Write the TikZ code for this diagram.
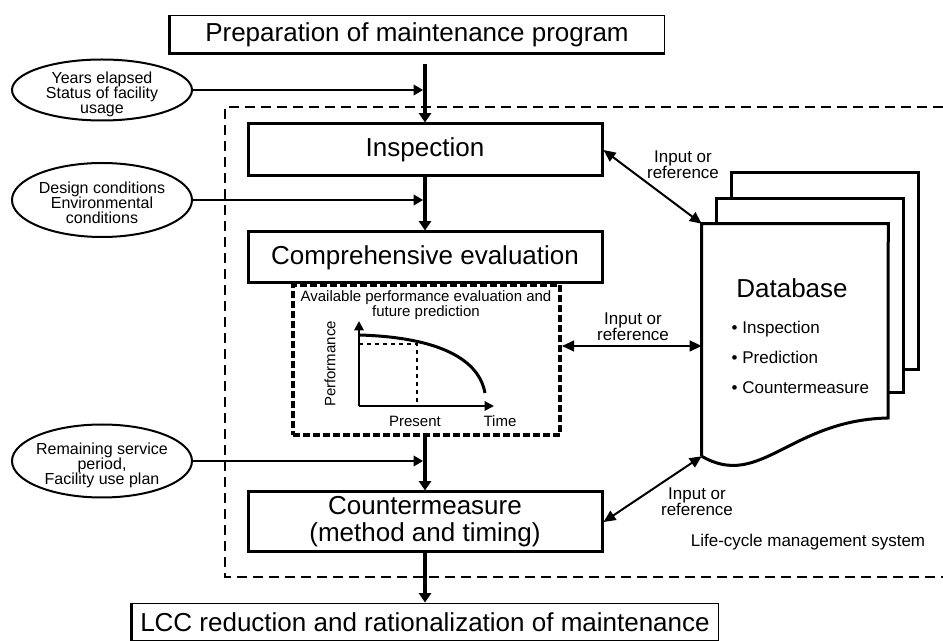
\documentclass[tikz,border=0pt]{standalone}
\usepackage{fontspec}
\setmainfont{Liberation Sans}
\usetikzlibrary{arrows.meta,shapes.geometric}

\newcommand\bigfont{\fontsize{19.5}{20.25}\selectfont}
\newcommand\midfont{\fontsize{12.75}{12}\selectfont}
\newcommand\smallfont{\fontsize{11.25}{11.25}\selectfont}
\newcommand\ellfont{\fontsize{12}{11.25}\selectfont}

\tikzset{
  stage/.style={draw, line width=2.25pt, minimum width=265.5pt, font=\bigfont},
  goal/.style={draw, line width=0.75pt, inner sep=2pt, font=\bigfont},
  factor/.style={ellipse, draw, line width=1.5pt, minimum width=135pt, inner sep=0pt},
  factortext/.style={align=center, font=\ellfont},
  flow/.style={line width=3pt, -{Triangle[width=9pt,length=7pt]}},
  side/.style={line width=1.1pt, shorten >=1.5pt, -{Triangle[width=8pt,length=7pt]}},
  io/.style={line width=1.5pt, {Triangle[width=8pt,length=9pt]}-{Triangle[width=8pt,length=9pt]}},
  iolabel/.style={align=center, font=\midfont},
  axis/.style={line width=1.5pt, -{Triangle[width=7pt,length=7pt]}},
}

\begin{document}
\begin{tikzpicture}[x=0.75pt,y=-0.75pt]
\useasboundingbox (0,0) rectangle (943,641);

\node[goal, minimum width=371.25pt, minimum height=27.75pt] (prep) at (417,34.5) {Preparation of maintenance program};
\draw[line width=2.25pt] (prep.north west) -- (prep.south west) -- (prep.south east);

\draw[line width=2pt, dash pattern=on 7.5pt off 4.5pt] (943,107) -- (225,107) -- (225,577) -- (943,577);

\node[stage, minimum height=39pt] (insp) at (425,150) {Inspection};
\node[stage, minimum height=38.25pt] (comp) at (425,257.5) {Comprehensive evaluation};
\node[draw, line width=3pt, dash pattern=on 5pt off 2.5pt, minimum width=200.25pt, minimum height=112.5pt] (perf) at (426.5,360) {};
\node[stage, minimum height=45pt, align=center] (cm) at (425,522) {Countermeasure\\(method and timing)};
\node[goal, minimum width=439.5pt, minimum height=28.5pt] (lcc) at (425,622) {LCC reduction and rationalization of maintenance};
\draw[line width=2.25pt] (lcc.north west) -- (lcc.south west) -- (lcc.south east);

\node[factor, minimum height=45.75pt, label={[factortext, yshift=-3pt]center:{Years elapsed\\Status of facility\\usage}}] (e1) at (102,90) {};
\node[factor, minimum height=55.5pt, label={[factortext, yshift=-2pt]center:{Design conditions\\Environmental\\conditions}}] (e2) at (102,200) {};
\node[factor, minimum height=54.75pt, label={[factortext, yshift=-3pt]center:{Remaining service\\period,\\Facility use plan}}] (e3) at (102,461) {};

\draw[flow, shorten <=8pt] (prep.south -| insp.north) -- (insp.north);
\draw[flow] (insp) -- (comp);
\draw[flow] (perf.south -| cm.north) -- (cm);
\draw[flow] (cm) -- (lcc);

\draw[side] (e1) -- (e1 -| insp);
\draw[side] (e2) -- (e2 -| comp);
\draw[side] (e3) -- (e3 -| cm);

\node[font=\smallfont, align=center] (avail) at (426,305) {Available performance evaluation and\\future prediction};
\draw[axis] (359,406) -- (359,321);
\draw[axis] (359,406) -- (494,406);
\draw[line width=2.25pt] (359,335) .. controls (430,337) and (478,355) .. (485,393);
\draw[dashed, line width=1.1pt] (359,344) -| (417,406);
\node[font=\smallfont, rotate=90] (perfaxis) at (330,364) {Performance};
\node[font=\smallfont] (present) at (415,421) {Present};
\node[font=\smallfont] (time) at (500,421) {Time};

\node[minimum width=139.5pt, minimum height=174pt] (db) at (795,340) {};
\draw[line width=2.25pt] (db.south west) -- (db.north west) -- (db.north east) -- (888,418) .. controls (790,420) and (760,490) .. (db.south west);
\foreach \d/\b in {1/393,2/370}
  \draw[line width=2.25pt] ({873+15*\d},\b) -- ({888+15*\d},\b) -- ({888+15*\d},{224-25.5*\d}) -- ({702+14.5*\d},{224-25.5*\d}) -- ({702+14.5*\d},{249.5-25.5*\d});
\node[font=\bigfont] (dbname) at (792,288) {Database};
\node[font=\fontsize{12.75}{22.5}\selectfont, align=left, anchor=west] (dbitems) at (727,357) {\textbullet\ Inspection\\\textbullet\ Prediction\\\textbullet\ Countermeasure};

\draw[io] (insp.east) -- (db.north west);
\draw[io] ([yshift=10.5pt]perf.east) -- ([yshift=10.5pt]perf.east -| db.west);
\draw[io] (cm.east) -- (db.south west);
\node[iolabel] (io1) at (683,165) {Input or\\reference};
\node[iolabel] (io2) at (633,327) {Input or\\reference};
\node[iolabel] (io3) at (697,502) {Input or\\reference};
\node[font=\midfont] (lcms) at (808,542) {Life-cycle management system};
\end{tikzpicture}
\end{document}
